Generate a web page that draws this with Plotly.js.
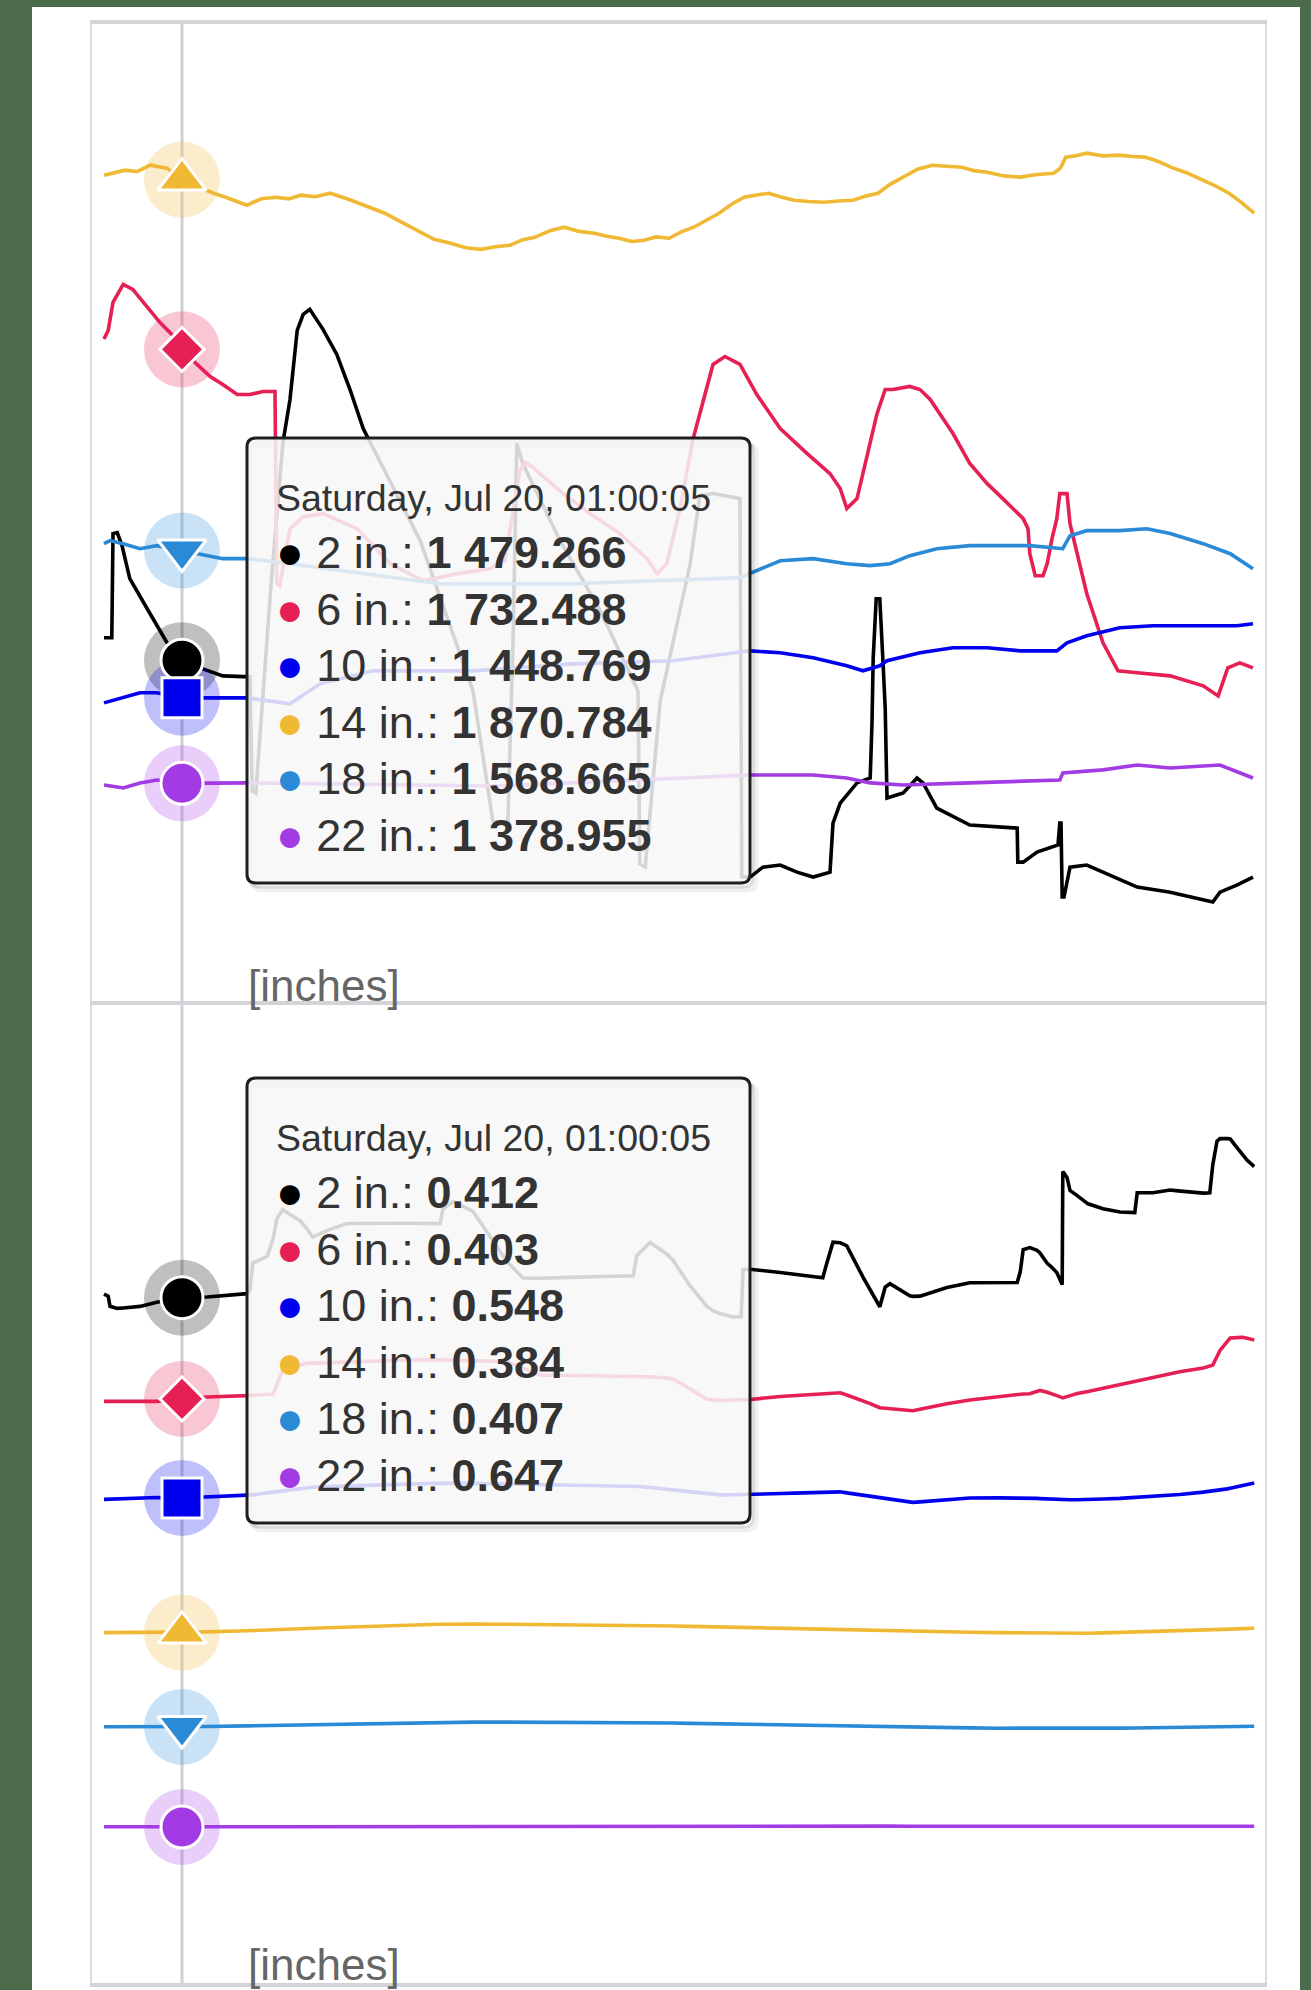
<!DOCTYPE html>
<html>
<head>
<meta charset="utf-8">
<script src="https://cdn.plot.ly/plotly-3.0.1.min.js"></script>
<style>
  html, body { margin: 0; padding: 0; background: #4c6a4c; width: 1311px; height: 1990px; overflow: hidden; }
  #card { position: absolute; left: 32px; top: 7px; width: 1268px; height: 1990px; background: #ffffff; }
  #chart { position: absolute; left: 0; top: 0; width: 1311px; height: 1990px; }
</style>
</head>
<body>
<div id="card"></div>
<div id="chart"></div>
<script>
// ---------------- DATA ----------------
// x values are hours since 2024-07-19 12:00:05; hovered point at hour 13 (Sat Jul 20, 01:00:05)
const startTime = Date.UTC(2024, 6, 19, 12, 0, 5);
const hoverHour = 13;
const tooltipHeader = 'Saturday, Jul 20, 01:00:05';
const seriesNames = ['2 in.', '6 in.', '10 in.', '14 in.', '18 in.', '22 in.'];
const seriesColors = ['#000000', '#e61f55', '#0000ee', '#efb934', '#2a8ad6', '#a23be4'];
const axisLabel = '[inches]';

// Upper panel (raw readings)
const upper_2in = [[0,1497.5],[1.3,1497.5],[1.5,1582.4],[2.2,1583.2],[3,1572.6],[4.3,1545.7],[7.2,1521.2],[10.5,1493.5],[13,1479.266],[16,1473],[19.8,1466.5],[24.3,1465.7],[24.7,1372.7],[25.3,1371],[27.7,1531.8],[29.8,1655.8],[31,1691.7],[32.2,1748],[33.2,1761],[34.3,1765.1],[36.5,1748.8],[38.8,1728.4],[41,1699.8],[43.2,1668],[52.7,1576.7],[61.5,1454.3],[64.8,1348.3],[67.3,1345.8],[68.2,1500],[68.8,1655.8],[69.8,1639.5],[76,1576.7],[82.7,1519.6],[89,1454.3],[89.3,1313.2],[90.2,1310.7],[92.7,1446.1],[97.7,1557.9],[99.3,1613.4],[101.5,1615],[106,1610.9],[106.3,1302.6],[107.7,1302.6],[109.8,1310.7],[112.7,1312.4],[115.5,1306.6],[118.2,1302.6],[121,1306.6],[121.5,1346.6],[122.7,1362.9],[125.5,1379.3],[127.7,1383.3],[128,1428.2],[128.2,1481.2],[128.7,1529.3],[129.3,1529.3],[129.8,1481.2],[130.2,1440.4],[130.5,1367],[133.2,1371.1],[135.5,1383.3],[136.5,1379.3],[138.8,1358.8],[144.3,1345],[152.2,1342.5],[152.3,1314.8],[153.2,1314.8],[155.5,1323],[159,1328.7],[159.3,1346.6],[159.5,1346.6],[159.7,1286.3],[160,1286.3],[161,1310.7],[163.8,1312.4],[166.5,1306.6],[172.2,1294.4],[177.7,1290.3],[183.2,1283.8],[184.8,1282.2],[186,1290.3],[188.8,1296],[191.5,1302.6]];
const upper_6in = [[0,1741],[0.7,1748],[1.5,1770.8],[3.2,1785.5],[4.8,1781.4],[7.2,1766.7],[9.3,1754.5],[11.3,1744.7],[13,1732.488],[15.5,1720.2],[17.7,1710.4],[19.8,1703.9],[22.2,1695.7],[24.3,1695.7],[26.5,1698.2],[28.5,1698.2],[28.8,1541.6],[29.3,1540],[31,1586.4],[33.2,1596.2],[36.5,1598.7],[42.2,1586.4],[47.7,1557.9],[53.2,1544],[58.8,1549.7],[64.3,1553.8],[66.8,1560],[69.3,1633.7],[70.2,1640.3],[71.3,1637],[76.5,1615],[81,1598.7],[86,1582.4],[90.5,1562],[92.2,1549.7],[93.8,1557.9],[96,1602.8],[98.2,1659.9],[101.5,1720.2],[103.5,1726.7],[106,1720.2],[108.8,1695.7],[112.7,1668],[117.2,1647.6],[121,1631.3],[122.7,1619.1],[123.8,1602.8],[125.5,1610.9],[127.2,1647.6],[128.8,1679.4],[130.2,1699.8],[131.5,1699.8],[134.3,1702.3],[136,1699.8],[137.7,1691.7],[141.5,1663.9],[144.3,1639.5],[147.2,1623.1],[149.8,1610.9],[153.2,1594.6],[154,1586.4],[154.3,1566],[155.2,1548.1],[156.5,1548.1],[157.2,1557.9],[158,1578.3],[158.8,1594.6],[159.3,1615],[160.5,1615],[161,1590.5],[162.2,1566],[163.8,1533.4],[166.5,1493.5],[169,1470.6],[172.2,1469],[177.7,1466.5],[183.2,1458.4],[185.7,1450.2],[187.3,1473],[189.3,1477.1],[191.5,1473]];
const upper_10in = [[0,1444.5],[3.2,1448.6],[6,1452.7],[8.8,1452.7],[13,1448.769],[17.2,1448.6],[23.8,1448.6],[31,1443.7],[36,1460],[44.8,1470.6],[61.5,1470.6],[78.2,1476.3],[94.8,1478.8],[107.7,1486.9],[112.7,1485.3],[118.2,1481.2],[123.8,1474.7],[126.5,1470.6],[129.3,1474.7],[130.5,1478.8],[136,1485.3],[141.5,1489.4],[147.2,1489.4],[152.7,1486.9],[158.8,1486.9],[160.5,1493.5],[163.8,1499.1],[169.3,1505.7],[174.8,1507.3],[183.2,1507.3],[188.8,1507.3],[191.5,1509]];
const upper_14in = [[0,1874.4],[1.8,1876.2],[3.5,1878.5],[5.5,1877.3],[7.7,1882.5],[10.5,1880.1],[13,1870.784],[14.8,1866.5],[16.8,1862.2],[18.5,1859.3],[20.3,1856.4],[22,1853.5],[23.8,1849.9],[26.2,1855.2],[28.7,1856.4],[30.8,1855.1],[32.8,1858.1],[35.2,1856.8],[37.7,1859.7],[41.2,1854],[44,1848.5],[46.8,1843.4],[49.5,1836.3],[52.3,1829.5],[55,1822.2],[57.8,1818.9],[60.3,1815.2],[62.8,1814],[65.2,1816.1],[67.7,1817.3],[69.8,1821.9],[71.8,1823.8],[74.3,1829.1],[76.7,1832],[79.2,1828.6],[81.7,1827.1],[83.8,1824.6],[85.8,1823],[88,1820.4],[90,1821.4],[92,1824.1],[94.2,1823],[96.2,1828.2],[98.3,1832],[100.4,1838.1],[102.5,1843.4],[104.6,1850.7],[106.7,1856.4],[108.8,1858.3],[110.8,1859.7],[113,1856.4],[115,1854],[117.5,1852.9],[120,1852.4],[122.4,1853.3],[124.8,1854],[127,1857.5],[129,1859.7],[131,1866.9],[133.2,1872.8],[135.6,1879.2],[138,1882.5],[140.5,1881.6],[143,1880.9],[145,1878.1],[147.2,1876.8],[150,1873.8],[152.7,1872.8],[155.5,1874.9],[158.3,1876],[159.4,1880.2],[160.3,1889.1],[162,1890.2],[163.8,1892.3],[166.5,1890.1],[169.3,1890.7],[171.4,1889.6],[173.5,1889.1],[175.6,1885.8],[177.8,1880.9],[180.5,1876.2],[183.3,1870.3],[185.4,1865.3],[187.5,1859.7],[189.6,1852.1],[191.7,1843.4]];
const upper_18in = [[0,1574.2],[1,1576.7],[3.2,1574.2],[6,1570.1],[8.8,1572.6],[13,1568.665],[15.5,1566],[19.8,1562],[23.8,1562],[31,1557.9],[56,1541.6],[78.2,1541.6],[106,1546.5],[112.7,1560.3],[118.2,1562],[123.8,1557.9],[127.7,1556.3],[131,1557.9],[134.3,1564.4],[138.8,1570.1],[144.3,1572.6],[154.3,1572.6],[159.8,1570.1],[161,1580.7],[163.8,1584.8],[169.3,1584.8],[173.8,1586.4],[177.7,1582.4],[183.2,1574.2],[187.7,1566],[191.5,1553.8]];
const upper_22in = [[0,1377.6],[3.2,1375.2],[6,1379.3],[8.8,1381.7],[13,1378.955],[17.2,1379.3],[23.8,1379.3],[66,1376.8],[107.7,1385.8],[118.2,1385.8],[123.8,1383.3],[127.7,1379.3],[133.2,1377.6],[144.3,1379.3],[159.3,1381.7],[159.8,1387.4],[166.5,1389.9],[172.2,1393.9],[177.7,1391.4],[186,1393.9],[191.5,1383.3]];

// Lower panel (per-depth values, drawn stacked)
const lower_2in = [[0,0.436],[0.7,0.428],[1,0.387],[2.2,0.379],[6,0.387],[8.8,0.403],[13,0.412],[17.2,0.407],[23.8,0.415],[24.3,0.428],[24.8,0.538],[27.2,0.562],[28.8,0.675],[30.5,0.635],[32.7,0.587],[34.8,0.513],[37.2,0.538],[40.5,0.562],[56,0.554],[56.5,0.615],[58.2,0.644],[61.5,0.607],[67.2,0.407],[69.8,0.367],[72.7,0.395],[88.2,0.407],[88.8,0.489],[91,0.546],[93.8,0.505],[97.7,0.42],[101.5,0.363],[104.8,0.338],[106.2,0.338],[106.5,0.53],[107.7,0.53],[112.7,0.505],[119.8,0.473],[120.5,0.534],[121.5,0.615],[123.8,0.607],[126.5,0.501],[129.3,0.411],[130.2,0.493],[131,0.509],[134.3,0.468],[136,0.46],[140.5,0.473],[144.3,0.477],[152.2,0.456],[152.7,0.497],[153.2,0.587],[154.3,0.595],[155.5,0.574],[157.2,0.525],[158.8,0.501],[159.7,0.46],[159.8,0.921],[160.5,0.892],[161,0.835],[163.8,0.766],[166.5,0.729],[169.3,0.701],[171.8,0.684],[172.2,0.762],[174.8,0.749],[177.7,0.745],[184.3,0.705],[184.7,0.807],[185.5,0.876],[187.2,0.827],[188.8,0.774],[190.5,0.725],[191.7,0.705]];
const lower_6in = [[0,0.399],[3.2,0.395],[8.8,0.391],[13,0.403],[17.2,0.407],[23.8,0.407],[28.2,0.399],[29.8,0.493],[33.8,0.505],[50.5,0.505],[67.2,0.497],[72.7,0.444],[94.8,0.452],[100.5,0.383],[107.7,0.387],[112.7,0.395],[118.2,0.399],[122.7,0.403],[126.5,0.387],[129.3,0.367],[134.3,0.371],[138.8,0.387],[144.3,0.399],[149.8,0.415],[154.3,0.424],[156,0.44],[157.7,0.432],[159.8,0.415],[162.2,0.432],[166.5,0.452],[172.2,0.477],[177.7,0.497],[183.2,0.505],[184.8,0.513],[186,0.57],[187.7,0.611],[189.8,0.603],[191.7,0.582]];
const lower_10in = [[0,0.542],[8.8,0.55],[13,0.548],[23.8,0.55],[33.8,0.574],[56,0.574],[89.3,0.566],[102.7,0.538],[107.7,0.542],[122.7,0.562],[127.7,0.546],[134.8,0.525],[144.3,0.546],[153.2,0.55],[159.8,0.542],[169.3,0.546],[177.7,0.554],[186,0.566],[191.7,0.591]];
const lower_14in = [[0,0.383],[13,0.384],[24.5,0.387],[41,0.394],[57.8,0.399],[76,0.397],[94.2,0.395],[113,0.393],[129,0.391],[149,0.389],[164,0.387],[179,0.392],[191.7,0.399]];
const lower_18in = [[0,0.407],[13,0.407],[24.5,0.411],[41.2,0.419],[57.8,0.424],[76,0.423],[94.2,0.419],[112.7,0.41],[129,0.403],[149.3,0.4],[163.8,0.399],[179.3,0.402],[191.7,0.407]];
const lower_22in = [[0,0.648],[13,0.647],[58,0.65],[115,0.652],[150,0.649],[191.7,0.65]];

const upperSeries = [upper_2in, upper_6in, upper_10in, upper_14in, upper_18in, upper_22in];
const lowerSeries = [lower_2in, lower_6in, lower_10in, lower_14in, lower_18in, lower_22in];
const markerSymbols = ['circle', 'diamond', 'square', 'triangle-up', 'triangle-down', 'circle'];
const markerSizes = [42, 34, 40, 42, 42, 42];

// ---------------- HELPERS ----------------
function hToDate(h) { return new Date(startTime + h * 3600000).toISOString().replace('T', ' ').replace('Z', ''); }
function valAt(arr, h) { for (const p of arr) if (p[0] === h) return p[1]; return null; }
function fmt(v) {
  const s = v.toFixed(3).split('.');
  return s[0].replace(/\B(?=(\d{3})+(?!\d))/g, ' ') + '.' + s[1];
}
function hexA(hex, a) {
  const n = parseInt(hex.slice(1), 16);
  return `rgba(${(n >> 16) & 255},${(n >> 8) & 255},${n & 255},${a})`;
}
// pixel -> paper (plot area: x 90..1267, y 21..1986)
const PL = 90, PR = 1267, PT = 21, PB = 1986;
const px = x => (x - PL) / (PR - PL);
const py = y => (PB - y) / (PB - PT);
const LW = 3.6;

const traces = [];
// upper lines
upperSeries.forEach((s, i) => {
  traces.push({
    x: s.map(p => hToDate(p[0])), y: s.map(p => p[1]), xaxis: 'x', yaxis: 'y',
    mode: 'lines', line: { color: seriesColors[i], width: LW }, hoverinfo: 'skip', name: seriesNames[i]
  });
});
// lower lines, stacked (bottom of stack = 22 in.)
for (let i = lowerSeries.length - 1; i >= 0; i--) {
  const s = lowerSeries[i];
  traces.push({
    x: s.map(p => hToDate(p[0])), y: s.map(p => p[1]), xaxis: 'x', yaxis: 'y2',
    mode: 'lines', stackgroup: 'lower', stackgaps: 'interpolate', fill: 'none',
    line: { color: seriesColors[i], width: LW }, hoverinfo: 'skip', name: seriesNames[i]
  });
}
// hover markers
const hx = seriesNames.map(() => hToDate(hoverHour));
const upperHoverVals = upperSeries.map(s => valAt(s, hoverHour));
const lowerHoverVals = lowerSeries.map(s => valAt(s, hoverHour));
const lowerStacked = lowerHoverVals.map((v, i) => lowerHoverVals.slice(i).reduce((a, b) => a + b, 0));
[[upperHoverVals, 'y'], [lowerStacked, 'y2']].forEach(([ys, ax]) => {
  traces.push({
    x: hx, y: ys, xaxis: 'x', yaxis: ax, mode: 'markers', hoverinfo: 'skip',
    marker: { symbol: 'circle', size: 76, opacity: 1, color: seriesColors.map(c => hexA(c, 0.25)), line: { width: 0 } }
  });
  traces.push({
    x: hx, y: ys, xaxis: 'x', yaxis: ax, mode: 'markers', hoverinfo: 'skip',
    marker: { symbol: markerSymbols, size: markerSizes, opacity: 1, color: seriesColors, line: { color: '#ffffff', width: 3 } }
  });
});

// ---------------- SHAPES ----------------
function roundRect(x0, y0, x1, y1, r) {
  const P = (x, y) => px(x) + ',' + py(y);
  return `M${P(x0 + r, y0)} L${P(x1 - r, y0)} Q${P(x1, y0)} ${P(x1, y0 + r)} L${P(x1, y1 - r)} Q${P(x1, y1)} ${P(x1 - r, y1)} L${P(x0 + r, y1)} Q${P(x0, y1)} ${P(x0, y1 - r)} L${P(x0, y0 + r)} Q${P(x0, y0)} ${P(x0 + r, y0)} Z`;
}
const shapes = [
  { type: 'line', xref: 'x', yref: 'paper', x0: hToDate(hoverHour), x1: hToDate(hoverHour), y0: 0, y1: 1, line: { color: '#cfd0d6', width: 3 }, layer: 'below' },
  { type: 'line', xref: 'paper', yref: 'paper', x0: px(91), x1: px(91), y0: 0, y1: 1, line: { color: '#dcdcdc', width: 2 } },
  { type: 'line', xref: 'paper', yref: 'paper', x0: px(1266), x1: px(1266), y0: 0, y1: 1, line: { color: '#dcdcdc', width: 2 } },
  { type: 'line', xref: 'paper', yref: 'paper', x0: px(90), x1: px(1267), y0: py(22), y1: py(22), line: { color: '#d2d4d8', width: 4 } },
  { type: 'line', xref: 'paper', yref: 'paper', x0: px(90), x1: px(1267), y0: py(1003), y1: py(1003), line: { color: '#d2d4d8', width: 4 } },
  { type: 'line', xref: 'paper', yref: 'paper', x0: px(90), x1: px(1267), y0: py(1985), y1: py(1985), line: { color: '#d2d4d8', width: 4 } }
];
const boxes = [438, 1078];
const annotations = [];
const FONT = 'Liberation Sans, Arial, sans-serif';
boxes.forEach((top, k) => {
  const x0 = 247, x1 = 750, y0 = top, y1 = top + 445;
  shapes.push({ type: 'path', xref: 'paper', yref: 'paper', path: roundRect(x0 + 6, y0 + 7, x1 + 6, y1 + 7, 9), fillcolor: 'rgba(0,0,0,0)', line: { color: 'rgba(0,0,0,0.06)', width: 5 } });
  shapes.push({ type: 'path', xref: 'paper', yref: 'paper', path: roundRect(x0 + 3, y0 + 4, x1 + 3, y1 + 4, 9), fillcolor: 'rgba(0,0,0,0)', line: { color: 'rgba(0,0,0,0.13)', width: 3 } });
  shapes.push({ type: 'path', xref: 'paper', yref: 'paper', path: roundRect(x0, y0, x1, y1, 9), fillcolor: 'rgba(247,247,247,0.86)', line: { color: '#1e1e1e', width: 3 } });
  annotations.push({ xref: 'paper', yref: 'paper', x: px(274), y: py(top + 60), xanchor: 'left', yanchor: 'middle', showarrow: false,
    text: tooltipHeader, font: { family: FONT, size: 37.5, color: '#333333' } });
  const vals = k === 0 ? upperHoverVals : lowerHoverVals;
  seriesNames.forEach((n, i) => {
    annotations.push({ xref: 'paper', yref: 'paper', x: px(274), y: py(top + 114 + i * 56.6), xanchor: 'left', yanchor: 'middle', showarrow: false,
      text: `<span style="color:${seriesColors[i]};font-size:46px">●</span> ${n}: <b>${fmt(vals[i])}</b>`,
      font: { family: FONT, size: 45, color: '#333333' } });
  });
});
[985, 1964].forEach(y => {
  annotations.push({ xref: 'paper', yref: 'paper', x: px(246), y: py(y), xanchor: 'left', yanchor: 'middle', showarrow: false,
    text: axisLabel, font: { family: FONT, size: 44, color: '#666666' } });
});

const layout = {
  width: 1311, height: 1990,
  margin: { l: PL, r: 1311 - PR, t: PT, b: 1990 - PB },
  paper_bgcolor: 'rgba(0,0,0,0)', plot_bgcolor: 'rgba(0,0,0,0)',
  showlegend: false, hovermode: false,
  xaxis: { type: 'date', range: [hToDate(-14 / 6), hToDate(1163 / 6)], visible: false, showgrid: false, zeroline: false },
  yaxis: { domain: [py(1003), 1], range: [1200, 2000], visible: false, showgrid: false, zeroline: false },
  yaxis2: { domain: [0, py(1003)], range: [0, 4], visible: false, showgrid: false, zeroline: false },
  shapes: shapes, annotations: annotations
};
Plotly.newPlot('chart', traces, layout, { staticPlot: true, displayModeBar: false });
</script>
</body>
</html>
